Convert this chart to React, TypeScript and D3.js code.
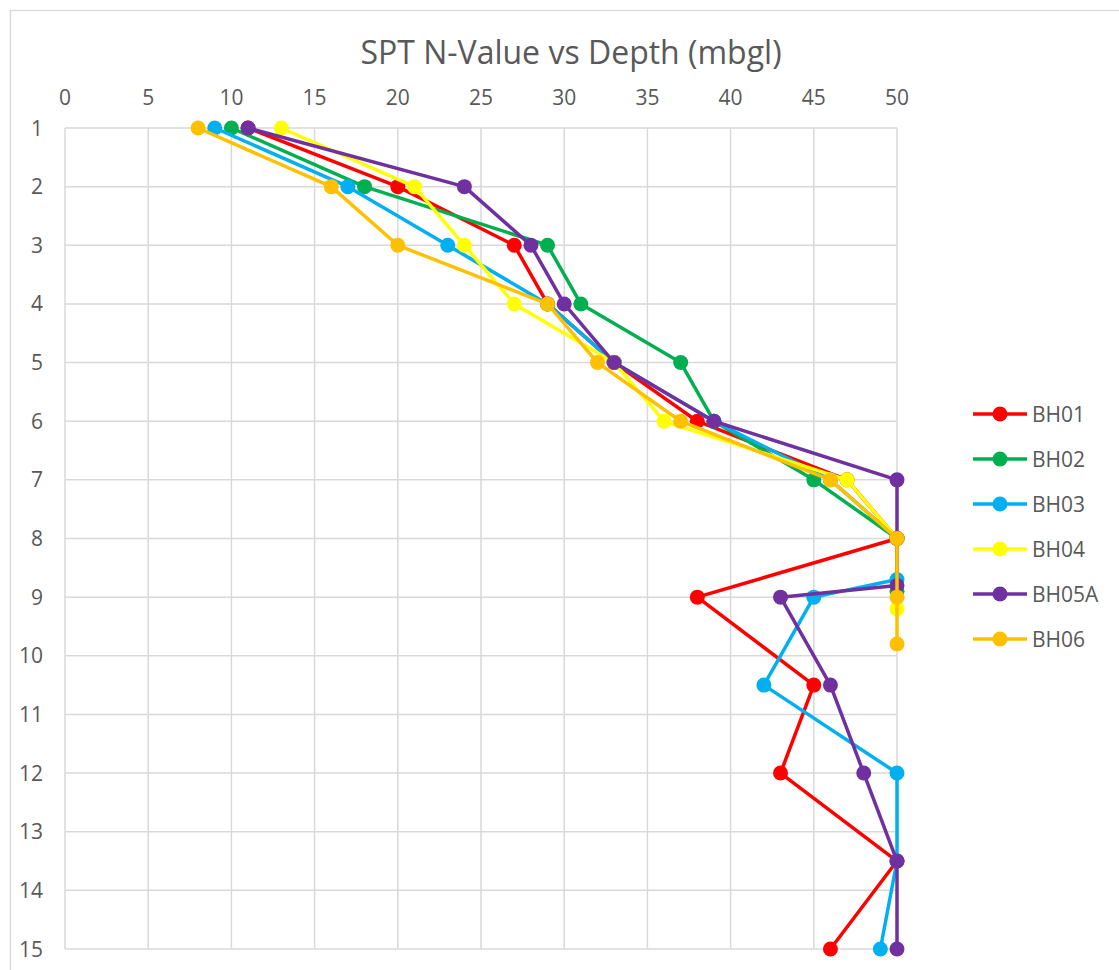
import React from 'react'
import { scaleLinear, line, range } from 'd3'

// N-value readings per borehole, paired with depth (mbgl)
const seriesNames = ['BH01', 'BH02', 'BH03', 'BH04', 'BH05A', 'BH06']
const seriesColors = ['#FF0000', '#00B050', '#00B0F0', '#FFFF00', '#7030A0', '#FFC000']

const bh01Depth = [1, 2, 3, 4, 5, 6, 7, 8, 9, 10.5, 12, 13.5, 15]
const bh01N = [11, 20, 27, 29, 33, 38, 47, 50, 38, 45, 43, 50, 46]
const bh02Depth = [1, 2, 3, 4, 5, 6, 7, 8, 8.9]
const bh02N = [10, 18, 29, 31, 37, 39, 45, 50, 50]
const bh03Depth = [1, 2, 3, 4, 5, 6, 7, 8, 8.7, 9, 10.5, 12, 13.5, 15]
const bh03N = [9, 17, 23, 29, 33, 39, 46, 50, 50, 45, 42, 50, 50, 49]
const bh04Depth = [1, 2, 3, 4, 5, 6, 7, 8, 9.2]
const bh04N = [13, 21, 24, 27, 33, 36, 47, 50, 50]
const bh05aDepth = [1, 2, 3, 4, 5, 6, 7, 8, 8.8, 9, 10.5, 12, 13.5, 15]
const bh05aN = [11, 24, 28, 30, 33, 39, 50, 50, 50, 43, 46, 48, 50, 50]
const bh06Depth = [1, 2, 3, 4, 5, 6, 7, 8, 9, 9.8]
const bh06N = [8, 16, 20, 29, 32, 37, 46, 50, 50, 50]

const depths = [bh01Depth, bh02Depth, bh03Depth, bh04Depth, bh05aDepth, bh06Depth]
const values = [bh01N, bh02N, bh03N, bh04N, bh05aN, bh06N]

const xTicks = range(0, 51, 5)
const yTicks = range(1, 16, 1)

const font = '"Open Sans", "Liberation Sans", sans-serif'
const textColor = '#595959'
const gridColor = '#D9D9D9'

const App = () => {
    const width = 1119
    const height = 970
    const margin = { top: 128, left: 65, right: 222, bottom: 21 }

    const x = scaleLinear().domain([0, 50]).range([margin.left, width - margin.right])
    const y = scaleLinear().domain([1, 15]).range([margin.top, height - margin.bottom])

    const path = line<[number, number]>().x(d => x(d[0])).y(d => y(d[1]))

    return (
        <div style={{ position: 'absolute', left: 0, top: 0 }}>
            <svg width={width} height={height} style={{ display: 'block', background: '#fff' }}>
                <rect x={10.5} y={10.5} width={1300} height={1100} fill='#fff' stroke={gridColor} strokeWidth={1.3} />

                <text x={571} y={64} textAnchor='middle' fontFamily={font} fontSize={32} fill={textColor}>
                    SPT N-Value vs Depth (mbgl)
                </text>

                {/* grid */}
                {xTicks.map(t => (
                    <line key={'gx' + t} x1={x(t)} x2={x(t)} y1={y(1)} y2={y(15)} stroke={gridColor} strokeWidth={1.5} />
                ))}
                {yTicks.map(t => (
                    <line key={'gy' + t} x1={x(0)} x2={x(50)} y1={y(t)} y2={y(t)} stroke={gridColor} strokeWidth={1.5} />
                ))}

                {/* axis labels */}
                {xTicks.map(t => (
                    <text key={'tx' + t} x={x(t)} y={105} textAnchor='middle' fontFamily={font} fontSize={21} fill={textColor}>{t}</text>
                ))}
                {yTicks.map(t => (
                    <text key={'ty' + t} x={43} y={y(t)} dy='0.36em' textAnchor='end' fontFamily={font} fontSize={21} fill={textColor}>{t}</text>
                ))}

                {/* series */}
                {seriesNames.map((name, i) => {
                    const pts = depths[i].map((d, j) => [values[i][j], d] as [number, number])
                    return (
                        <g key={name}>
                            <path d={path(pts) || ''} fill='none' stroke={seriesColors[i]} strokeWidth={3.5} strokeLinejoin='round' />
                            {pts.map((p, j) => (
                                <circle key={j} cx={x(p[0])} cy={y(p[1])} r={7.5} fill={seriesColors[i]} />
                            ))}
                        </g>
                    )
                })}

                {/* legend */}
                {seriesNames.map((name, i) => {
                    const ly = 414 + i * 45
                    return (
                        <g key={'lg' + name}>
                            <line x1={973} x2={1027} y1={ly} y2={ly} stroke={seriesColors[i]} strokeWidth={3.5} />
                            <circle cx={1000} cy={ly} r={7.5} fill={seriesColors[i]} />
                            <text x={1032} y={ly} dy='0.36em' fontFamily={font} fontSize={21} fill={textColor}>{name}</text>
                        </g>
                    )
                })}
            </svg>
        </div>
    )
}

export default App
